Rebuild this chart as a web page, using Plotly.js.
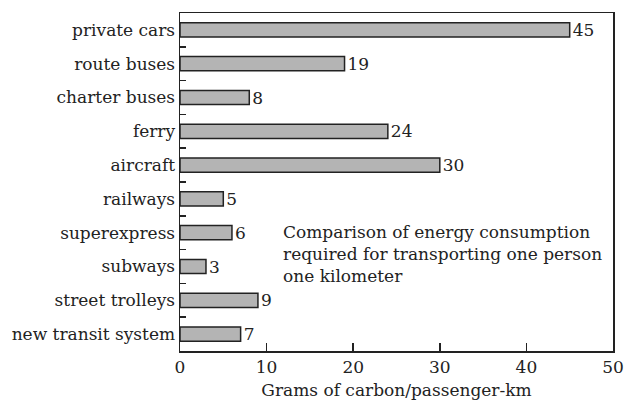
<!DOCTYPE html>
<html><head><meta charset="utf-8">
<script src="https://cdn.plot.ly/plotly-3.0.1.min.js"></script>
<style>body{margin:0;background:#fff}</style>
</head><body>
<div id="chart" style="width:624px;height:400px"></div>
<script>
const categories = ["private cars","route buses","charter buses","ferry","aircraft","railways","superexpress","subways","street trolleys","new transit system"];
const values = [45,19,8,24,30,5,6,3,9,7];
const xTicks = [0,10,20,30,40,50];
const noteLines = ["Comparison of energy consumption","required for transporting one person","one kilometer"];
const xTitle = "Grams of carbon/passenger-km";

const font = "DejaVu Serif, Liberation Serif, serif";
const ink = "#222";
const fs = 17;

Plotly.newPlot("chart", [{
  type: "bar",
  orientation: "h",
  x: values,
  y: categories,
  width: 0.42,
  marker: {color: "#b4b4b4", line: {color: ink, width: 1.5}},
  text: values.map(String),
  textposition: "outside",
  constraintext: "none",
  cliponaxis: false,
  textfont: {family: font, size: fs, color: ink},
  hoverinfo: "none"
}], {
  width: 624, height: 400,
  margin: {l: 180, r: 11, t: 13, b: 49},
  paper_bgcolor: "#fff", plot_bgcolor: "#fff",
  showlegend: false,
  font: {family: font, size: fs, color: ink},
  xaxis: {
    range: [0, 50], tickvals: xTicks, ticktext: xTicks.map(String),
    ticks: "inside", ticklen: 8, tickwidth: 1.5, tickcolor: ink,
    showline: true, linecolor: ink, linewidth: 1.5, mirror: true,
    showgrid: false, zeroline: false,
    tickfont: {family: font, size: fs, color: ink},
    title: {text: xTitle, font: {family: font, size: fs, color: ink}, standoff: 11}
  },
  yaxis: {
    type: "category", autorange: "reversed", tickson: "boundaries",
    ticks: "inside", ticklen: 6, tickwidth: 1.5, tickcolor: ink,
    showline: true, linecolor: ink, linewidth: 1.5, mirror: true,
    showgrid: false, zeroline: false,
    tickfont: {family: font, size: fs, color: ink}
  },
  annotations: [{
    xref: "x", yref: "y", x: 11.65, y: 6.62, xanchor: "left", yanchor: "middle",
    align: "left", showarrow: false,
    text: noteLines.join("<br>"),
    font: {family: font, size: fs, color: ink}
  }]
}, {displayModeBar: false, staticPlot: true});
</script>
</body></html>
